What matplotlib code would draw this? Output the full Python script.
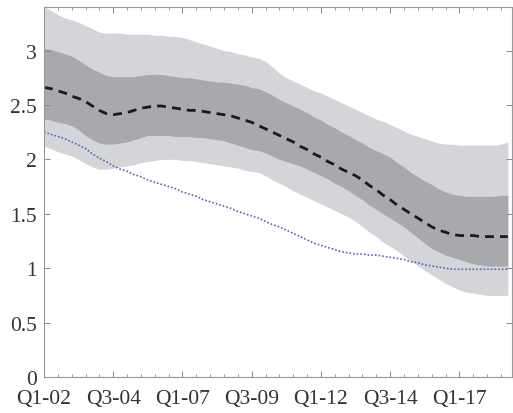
import numpy as np
import matplotlib.pyplot as plt

# quarterly data, Q1-02 .. Q4-18
tick_labels = ["Q1-02", "Q3-04", "Q1-07", "Q3-09", "Q1-12", "Q3-14", "Q1-17"]
tick_pos = [0, 10, 20, 30, 40, 50, 60]

median = [2.66, 2.65, 2.63, 2.61, 2.58, 2.56, 2.53, 2.49, 2.45, 2.42,
          2.41, 2.42, 2.43, 2.45, 2.47, 2.48, 2.49, 2.49, 2.48, 2.47,
          2.46, 2.45, 2.45, 2.44, 2.43, 2.42, 2.41, 2.40, 2.38, 2.36,
          2.34, 2.31, 2.28, 2.25, 2.22, 2.19, 2.16, 2.12, 2.09, 2.05,
          2.02, 1.98, 1.95, 1.91, 1.88, 1.85, 1.81, 1.76, 1.72, 1.67,
          1.63, 1.58, 1.54, 1.50, 1.46, 1.42, 1.38, 1.35, 1.33, 1.31,
          1.30, 1.30, 1.30, 1.29, 1.29, 1.29, 1.29, 1.29]

outer_hi = [3.40, 3.37, 3.33, 3.30, 3.28, 3.26, 3.23, 3.20, 3.17, 3.16,
            3.16, 3.16, 3.15, 3.15, 3.15, 3.15, 3.14, 3.14, 3.13, 3.13,
            3.12, 3.10, 3.08, 3.06, 3.04, 3.02, 3.00, 2.99, 2.97, 2.96,
            2.94, 2.93, 2.90, 2.85, 2.79, 2.75, 2.72, 2.69, 2.66, 2.63,
            2.61, 2.58, 2.55, 2.52, 2.49, 2.46, 2.43, 2.40, 2.37, 2.35,
            2.32, 2.29, 2.26, 2.23, 2.21, 2.19, 2.17, 2.15, 2.14, 2.14,
            2.13, 2.13, 2.13, 2.13, 2.13, 2.13, 2.14, 2.16]

inner_hi = [3.02, 3.01, 2.99, 2.97, 2.95, 2.91, 2.87, 2.83, 2.80, 2.77,
            2.76, 2.76, 2.76, 2.76, 2.77, 2.78, 2.78, 2.78, 2.77, 2.76,
            2.75, 2.75, 2.74, 2.73, 2.72, 2.71, 2.71, 2.70, 2.69, 2.68,
            2.66, 2.65, 2.62, 2.59, 2.55, 2.52, 2.49, 2.46, 2.43, 2.39,
            2.36, 2.32, 2.29, 2.25, 2.22, 2.18, 2.15, 2.11, 2.08, 2.05,
            2.02, 1.97, 1.93, 1.88, 1.84, 1.80, 1.77, 1.73, 1.70, 1.68,
            1.67, 1.66, 1.66, 1.66, 1.66, 1.66, 1.67, 1.67]

inner_lo = [2.37, 2.36, 2.34, 2.33, 2.31, 2.27, 2.22, 2.18, 2.15, 2.14,
            2.14, 2.15, 2.16, 2.18, 2.20, 2.22, 2.22, 2.22, 2.22, 2.21,
            2.21, 2.21, 2.20, 2.20, 2.19, 2.18, 2.17, 2.15, 2.13, 2.11,
            2.09, 2.08, 2.06, 2.03, 2.00, 1.98, 1.96, 1.94, 1.91, 1.88,
            1.85, 1.82, 1.78, 1.75, 1.71, 1.67, 1.63, 1.58, 1.54, 1.50,
            1.46, 1.42, 1.38, 1.33, 1.28, 1.23, 1.18, 1.15, 1.12, 1.10,
            1.08, 1.06, 1.04, 1.03, 1.02, 1.02, 1.02, 1.02]

outer_lo = [2.12, 2.10, 2.07, 2.05, 2.03, 2.00, 1.96, 1.93, 1.91, 1.91,
            1.92, 1.93, 1.94, 1.95, 1.97, 1.98, 1.99, 2.00, 2.00, 2.00,
            1.99, 1.99, 1.98, 1.97, 1.96, 1.95, 1.94, 1.93, 1.92, 1.90,
            1.89, 1.88, 1.85, 1.81, 1.78, 1.75, 1.71, 1.68, 1.65, 1.62,
            1.59, 1.56, 1.53, 1.50, 1.47, 1.43, 1.38, 1.33, 1.29, 1.24,
            1.20, 1.16, 1.11, 1.07, 1.02, 0.98, 0.94, 0.90, 0.86, 0.83,
            0.80, 0.78, 0.77, 0.76, 0.75, 0.75, 0.75, 0.75]

actual = [2.25, 2.23, 2.21, 2.19, 2.16, 2.13, 2.10, 2.05, 2.01, 1.98,
          1.94, 1.91, 1.89, 1.86, 1.84, 1.81, 1.79, 1.77, 1.75, 1.73,
          1.70, 1.68, 1.66, 1.63, 1.61, 1.59, 1.57, 1.55, 1.52, 1.50,
          1.48, 1.46, 1.43, 1.40, 1.38, 1.35, 1.32, 1.29, 1.26, 1.23,
          1.21, 1.19, 1.17, 1.15, 1.14, 1.13, 1.13, 1.12, 1.12, 1.11,
          1.10, 1.09, 1.08, 1.06, 1.05, 1.03, 1.02, 1.01, 1.00, 0.99,
          0.99, 0.99, 0.99, 0.99, 0.99, 0.99, 0.99, 0.99]

plt.rcParams['font.family'] = ['Liberation Serif', 'DejaVu Serif']

q = np.arange(len(median))

fig = plt.figure(figsize=(5.13, 4.14), dpi=100)
ax = fig.add_axes([44 / 513, 36 / 414, 468 / 513, 370 / 414])

ax.fill_between(q, outer_lo, outer_hi, color='#d4d5d9', linewidth=0)
ax.fill_between(q, inner_lo, inner_hi, color='#a8a9ad', linewidth=0)
ax.plot(q, median, color='#1a1a1a', linestyle=(0, (3.2, 2.2)), linewidth=2.0)
ax.plot(q, actual, color='#5b62b5', linestyle=(0, (1, 1.2)), linewidth=1.2)

ax.set_xlim(0, 67.6)
ax.set_ylim(0, 3.4)
ax.set_xticks(tick_pos)
ax.set_xticklabels(tick_labels)
ax.set_xticks(np.arange(0, 68, 2), minor=True)
ax.set_yticks(np.arange(0, 3.01, 0.5))
ax.set_yticklabels(["0", "0.5", "1", "1.5", "2", "2.5", "3"])

ax.tick_params(which='both', direction='in', top=True, right=True,
               colors='#888888', labelcolor='#333333', labelsize=15.5)
ax.tick_params(which='major', length=4, width=0.7)
ax.tick_params(which='minor', length=2, width=0.6)
ax.tick_params(axis='x', which='major', pad=9)
ax.tick_params(axis='y', which='major', pad=5)
for s in ax.spines.values():
    s.set_color('#999999')
    s.set_linewidth(0.8)

fig.savefig('out.png', dpi=100)
